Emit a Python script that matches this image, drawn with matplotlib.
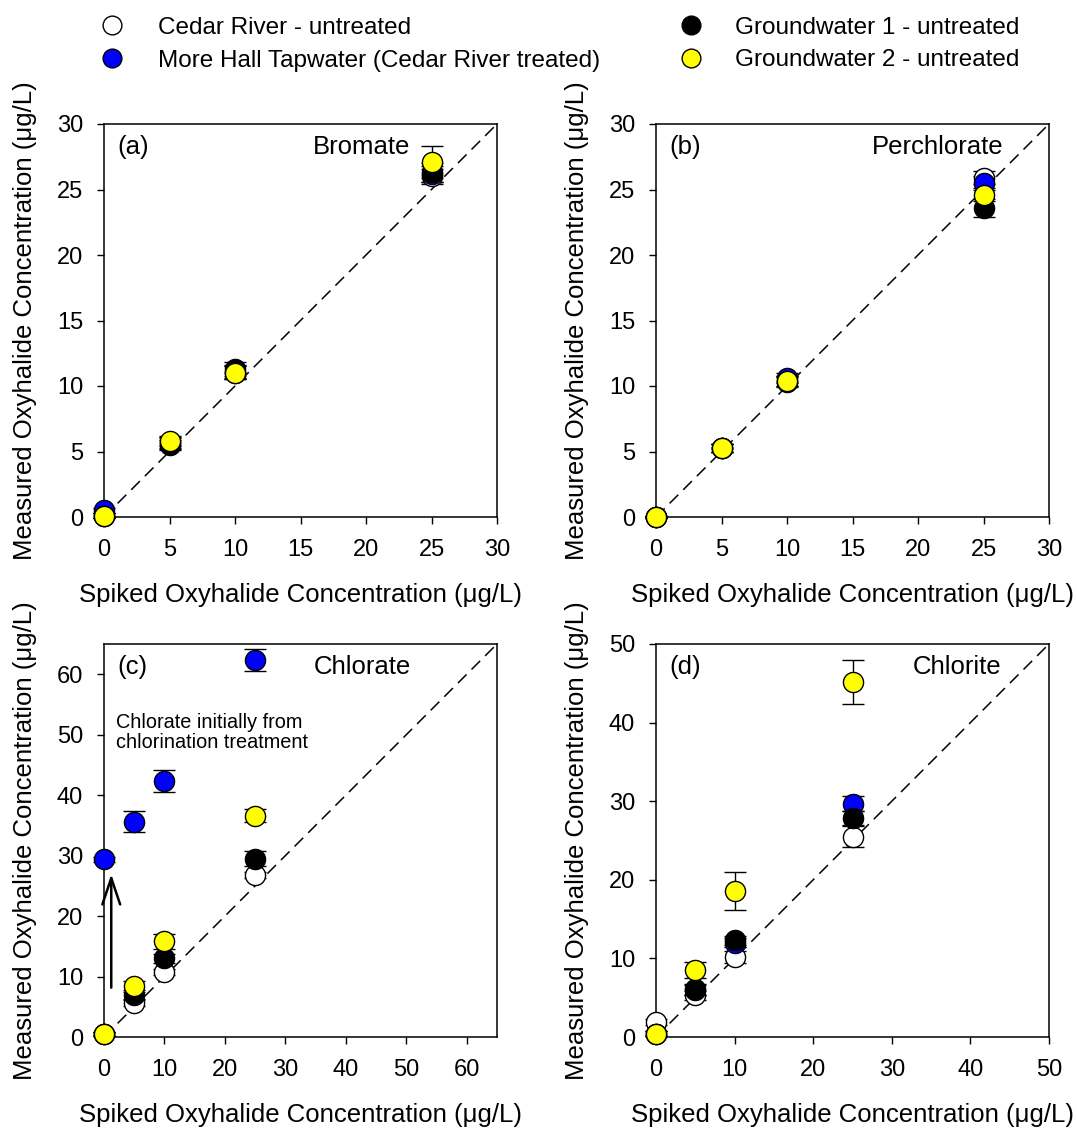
import matplotlib
matplotlib.use("Agg")
import matplotlib.pyplot as plt
from matplotlib.lines import Line2D

plt.rcParams["font.family"] = ["Liberation Sans", "DejaVu Sans"]

spiked = [0, 5, 10, 25]

# series order: Cedar River, More Hall tapwater, Groundwater 1, Groundwater 2
series_names = ["Cedar River - untreated",
                "More Hall Tapwater (Cedar River treated)",
                "Groundwater 1 - untreated",
                "Groundwater 2 - untreated"]
series_colors = ["white", "#0000ff", "black", "#ffff00"]

# (a) Bromate
bromate_y = [[0.1, 5.5, 11.0, 26.0],
             [0.5, 5.7, 11.1, 26.2],
             [0.1, 5.6, 11.3, 26.3],
             [0.1, 5.8, 11.0, 27.1]]
bromate_err = [[0.2, 0.4, 0.5, 0.6],
               [0.2, 0.4, 0.5, 0.6],
               [0.2, 0.4, 0.5, 0.7],
               [0.2, 0.4, 0.5, 1.2]]

# (b) Perchlorate
perchl_y = [[0.0, 5.3, 10.4, 25.9],
            [0.0, 5.3, 10.6, 25.5],
            [0.0, 5.3, 10.3, 23.6],
            [0.0, 5.3, 10.4, 24.6]]
perchl_err = [[0.1, 0.3, 0.4, 0.5],
              [0.1, 0.3, 0.4, 0.5],
              [0.1, 0.3, 0.4, 0.7],
              [0.1, 0.3, 0.4, 0.5]]

# (c) Chlorate
chlorate_y = [[0.5, 5.6, 10.8, 26.8],
              [29.4, 35.6, 42.3, 62.3],
              [0.5, 6.9, 13.0, 29.5],
              [0.5, 8.5, 15.8, 36.6]]
chlorate_err = [[0.3, 0.5, 0.5, 0.5],
                [0.4, 1.7, 1.8, 1.8],
                [0.3, 0.6, 0.7, 1.3],
                [0.3, 0.8, 1.2, 1.1]]

# (d) Chlorite
chlorite_y = [[1.9, 5.3, 10.2, 25.5],
              [0.4, 6.0, 12.0, 29.7],
              [0.4, 6.1, 12.3, 27.9],
              [0.4, 8.5, 18.6, 45.2]]
chlorite_err = [[0.4, 0.6, 0.8, 1.3],
                [0.3, 0.6, 0.6, 1.0],
                [0.3, 0.7, 0.6, 0.9],
                [0.3, 1.0, 2.4, 2.8]]

panels = [
    ("(a)", "Bromate", bromate_y, bromate_err, 30, 5, 0.78),
    ("(b)", "Perchlorate", perchl_y, perchl_err, 30, 5, 0.885),
    ("(c)", "Chlorate", chlorate_y, chlorate_err, 65, 10, 0.78),
    ("(d)", "Chlorite", chlorite_y, chlorite_err, 50, 10, 0.88),
]

W, H = 1077, 1128
fig = plt.figure(figsize=(W / 100, H / 100), dpi=100)
boxes = [(104, 124), (656, 124), (104, 644), (656, 644)]
size = 393

FS = 18.5
TFS = 17
for (tag, name, ys, errs, lim, step, name_x), (x0, y0) in zip(panels, boxes):
    ax = fig.add_axes([x0 / W, (H - y0 - size) / H, size / W, size / H])
    ax.plot([0, lim], [0, lim], color="black", lw=1.1, dashes=(8, 4.6), zorder=1)
    for y, e, c in zip(ys, errs, series_colors):
        ax.errorbar(spiked, y, yerr=e, fmt="o", ms=14.5, mfc=c, mec="black",
                    mew=1.0, ecolor="black", elinewidth=1.0, capsize=8,
                    capthick=1.0, zorder=3, clip_on=False)
    ax.set_xlim(0, lim)
    ax.set_ylim(0, lim)
    ticks = list(range(0, lim + 1, step))
    ax.set_xticks(ticks)
    ax.set_yticks(ticks)
    for s in ax.spines.values():
        s.set_linewidth(1.1)
    ax.tick_params(direction="out", length=5, width=1.0, labelsize=TFS,
                   top=False, right=False)
    ax.tick_params(axis="x", pad=11)
    ax.tick_params(axis="y", pad=10)
    ax.set_xlabel("Spiked Oxyhalide Concentration (μg/L)", fontsize=FS,
                  labelpad=16)
    ax.set_ylabel("Measured Oxyhalide Concentration (μg/L)", fontsize=FS,
                  labelpad=14)
    ax.text(0.033, 0.972, tag, transform=ax.transAxes, fontsize=FS,
            ha="left", va="top")
    ax.text(name_x, 0.972, name, transform=ax.transAxes, fontsize=FS,
            ha="right", va="top")
    if tag == "(c)":
        ax.text(2.0, 53.6, "Chlorate initially from\nchlorination treatment",
                fontsize=14.3, ha="left", va="top", linespacing=1.1)
        ax.annotate("", xy=(1.2, 27.4), xytext=(1.2, 7.7),
                    arrowprops=dict(arrowstyle="->,head_length=0.95,head_width=0.32",
                                    mutation_scale=20, lw=1.8, color="black"))

# legend drawn in figure pixels: marker centre x, text x, row y
legend_pos = [(112, 158, 25), (112, 158, 58), (691, 735, 25), (691, 735, 58)]
for (mx, tx, ry), c, label in zip(legend_pos, series_colors, series_names):
    fig.add_artist(Line2D([mx / W], [1 - ry / H], ls="none", marker="o",
                          ms=13.5, mfc=c, mec="black", mew=1.0,
                          transform=fig.transFigure))
    fig.text(tx / W, 1 - ry / H, label, fontsize=17.5, ha="left",
             va="center_baseline")

fig.savefig("out.png", dpi=100)
